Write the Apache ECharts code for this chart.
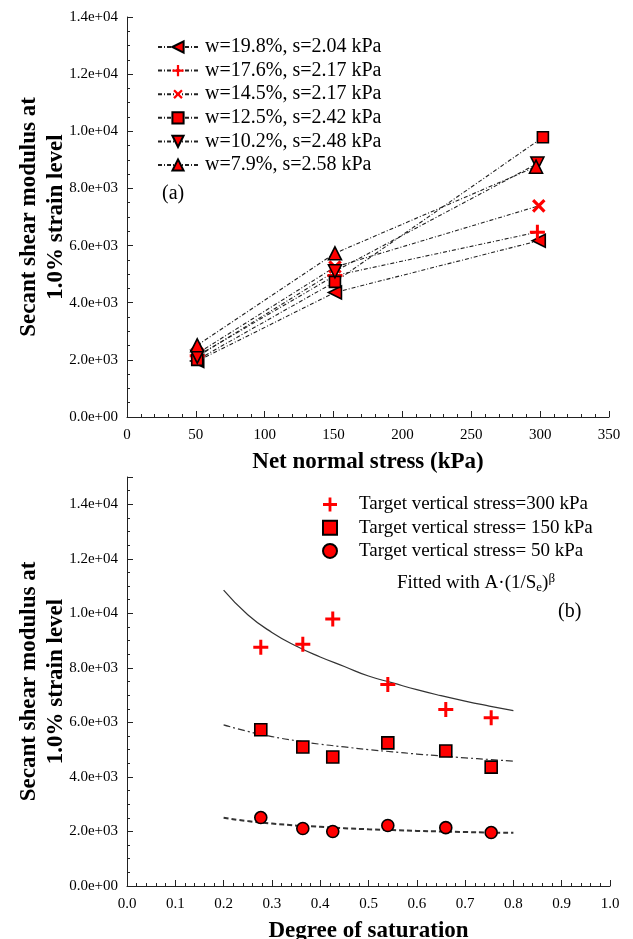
<!DOCTYPE html>
<html lang="en">
  <head>
    <meta charset="UTF-8" />
    <title>Secant shear modulus</title>
    <script src="https://cdn.jsdelivr.net/npm/echarts@6/dist/echarts.min.js"></script>
    <style>
      html, body { margin: 0; padding: 0; background: #fff; }
      #main { width: 633px; height: 939px; }
    </style>
  </head>
  <body>
    <div id="main"></div>
    <script>
      // (a) modulus vs net normal stress, one line per water content
      var seriesNames = [
        "w=19.8%, s=2.04 kPa",
        "w=17.6%, s=2.17 kPa",
        "w=14.5%, s=2.17 kPa",
        "w=12.5%, s=2.42 kPa",
        "w=10.2%, s=2.48 kPa",
        "w=7.9%, s=2.58 kPa"
      ];
      var stressX = [
        [51, 151, 299],
        [51, 151, 298],
        [51, 151, 299],
        [51, 151, 302],
        [51, 151, 298],
        [51, 151, 297]
      ];
      var modulusY = [
        [1960, 4360, 6170],
        [2140, 4950, 6470],
        [2220, 5250, 7390],
        [2000, 4730, 9790],
        [2110, 5100, 8870],
        [2510, 5730, 8760]
      ];

      // (b) modulus vs degree of saturation
      var saturation = [0.277, 0.364, 0.426, 0.540, 0.660, 0.754];
      var g300 = [8760, 8870, 9790, 7390, 6470, 6170];
      var g150 = [5730, 5100, 4730, 5250, 4950, 4360];
      var g50 = [2510, 2110, 2000, 2220, 2140, 1960];
      var bNames = [
        "Target vertical stress=300 kPa",
        "Target vertical stress= 150 kPa",
        "Target vertical stress= 50 kPa"
      ];

      // fitted curves
      var fitS = [0.2, 0.25, 0.3, 0.35, 0.4, 0.45, 0.5, 0.55, 0.6, 0.65, 0.7, 0.75, 0.8];
      var fit300 = [10850, 9950, 9300, 8800, 8400, 8050, 7700, 7450, 7200, 6980, 6780, 6600, 6430];
      var fit150 = [5910, 5670, 5480, 5330, 5200, 5100, 5000, 4920, 4840, 4770, 4700, 4640, 4580];
      var fit50 = [2500, 2380, 2290, 2220, 2170, 2120, 2080, 2050, 2020, 2000, 1980, 1960, 1950];

      var serif = "Liberation Serif";
      var plus = "path://M4,0H6V4H10V6H6V10H4V6H0V4H4Z";
      var leftTri = "path://M0,5L10,0L10,10Z";
      var downTri = "path://M0,0L10,0L5,10Z";
      var symbols = [leftTri, plus, plus, "rect", downTri, "triangle"];
      var rotates = [0, 0, 45, 0, 0, 0];
      var sizes = [13, 15, 16, 11, 13, 13];
      var bordered = [true, false, false, true, true, true];

      function sci(v) {
        if (v === 0) return "0.0e+00";
        var e = Math.floor(Math.log10(Math.abs(v)) + 1e-9);
        var m = v / Math.pow(10, e);
        return m.toFixed(1) + "e+" + (e < 10 ? "0" : "") + e;
      }

      function pairs(xs, ys) {
        var out = [];
        for (var i = 0; i < xs.length; i++) out.push([xs[i], ys[i]]);
        return out;
      }

      function axisBase() {
        return {
          axisLine: { show: true, lineStyle: { color: "#222", width: 1 } },
          axisTick: { show: true, inside: true, length: 6, lineStyle: { color: "#222" } },
          minorTick: { show: true, length: 3, lineStyle: { color: "#222" } },
          splitLine: { show: false },
          axisLabel: { color: "#000", fontFamily: serif, fontSize: 15, margin: 9 }
        };
      }

      var nameStyle = { fontFamily: serif, fontWeight: "bold", fontSize: 23, color: "#000", lineHeight: 27 };

      var xA = axisBase();
      xA.type = "value"; xA.gridIndex = 0; xA.min = 0; xA.max = 350; xA.interval = 50;
      xA.minorTick.splitNumber = 5;
      xA.axisLabel.margin = 11;
      xA.name = "Net normal stress (kPa)"; xA.nameLocation = "middle"; xA.nameGap = 32;
      xA.nameTextStyle = nameStyle;

      var xB = axisBase();
      xB.type = "value"; xB.gridIndex = 1; xB.min = 0; xB.max = 1; xB.interval = 0.1;
      xB.minorTick.splitNumber = 5;
      xB.axisLabel.margin = 11;
      xB.axisLabel.formatter = function (v) { return v.toFixed(1); };
      xB.name = "Degree of saturation"; xB.nameLocation = "middle"; xB.nameGap = 32;
      xB.nameTextStyle = nameStyle;

      var yName = "Secant shear modulus at\n1.0% strain level";
      var yA = axisBase();
      yA.type = "value"; yA.gridIndex = 0; yA.min = 0; yA.max = 14000; yA.interval = 2000;
      yA.minorTick.splitNumber = 4;
      yA.axisLabel.formatter = sci;
      yA.name = yName; yA.nameLocation = "middle"; yA.nameGap = 57;
      yA.nameMoveOverlap = false;
      yA.nameTextStyle = nameStyle;

      var yB = axisBase();
      yB.type = "value"; yB.gridIndex = 1; yB.min = 0; yB.max = 15000; yB.interval = 2000;
      yB.minorTick.splitNumber = 4;
      yB.axisLabel.formatter = function (v) { return v > 14000 ? "" : sci(v); };
      yB.name = yName; yB.nameLocation = "middle"; yB.nameGap = 57;
      yB.nameMoveOverlap = false;
      yB.nameTextStyle = nameStyle;

      var series = [];
      for (var i = 0; i < seriesNames.length; i++) {
        series.push({
          name: seriesNames[i],
          type: "line",
          xAxisIndex: 0,
          yAxisIndex: 0,
          data: pairs(stressX[i], modulusY[i]),
          symbol: symbols[i],
          symbolRotate: rotates[i],
          symbolSize: sizes[i],
          itemStyle: {
            color: "#ff0000",
            opacity: 1,
            borderColor: bordered[i] ? "#000" : "#ff0000",
            borderWidth: bordered[i] ? 1.6 : 0
          },
          lineStyle: { color: "#222", width: 1.1, type: [4, 2, 1, 2] },
          z: 3
        });
      }

      var bSym = [plus, "rect", "circle"];
      var bSize = [15, 12, 12];
      var bData = [g300, g150, g50];
      for (var j = 0; j < 3; j++) {
        series.push({
          name: bNames[j],
          type: "scatter",
          xAxisIndex: 1,
          yAxisIndex: 1,
          data: pairs(saturation, bData[j]),
          symbol: bSym[j],
          symbolSize: bSize[j],
          itemStyle: {
            color: "#ff0000",
            opacity: 1,
            borderColor: j === 0 ? "#ff0000" : "#000",
            borderWidth: j === 0 ? 0 : 1.6
          },
          z: 4
        });
      }

      var fits = [fit300, fit150, fit50];
      var fitStyles = [
        { color: "#333", width: 1.2, type: "solid" },
        { color: "#333", width: 1.2, type: [7, 3, 2, 3] },
        { color: "#333", width: 2, type: [5, 3] }
      ];
      for (var k = 0; k < 3; k++) {
        series.push({
          type: "line",
          xAxisIndex: 1,
          yAxisIndex: 1,
          data: pairs(fitS, fits[k]),
          showSymbol: false,
          smooth: true,
          lineStyle: fitStyles[k],
          silent: true,
          z: 2
        });
      }

      var chart = echarts.init(document.getElementById("main"));
      chart.setOption({
        animation: false,
        backgroundColor: "#fff",
        grid: [
          { left: 127, top: 17, width: 482, height: 400, outerBoundsMode: "none", containLabel: false },
          { left: 127, top: 477, width: 483, height: 409, outerBoundsMode: "none", containLabel: false }
        ],
        xAxis: [xA, xB],
        yAxis: [yA, yB],
        legend: [
          {
            data: seriesNames,
            orient: "vertical",
            left: 152,
            top: 32,
            itemWidth: 40,
            itemHeight: 14,
            itemGap: 3.6,
            textStyle: { fontFamily: serif, fontSize: 20, color: "#000", padding: [0, 0, 0, 2] }
          },
          {
            data: bNames,
            orient: "vertical",
            left: 317,
            top: 490,
            itemWidth: 14,
            itemHeight: 14,
            itemGap: 4.2,
            textStyle: { fontFamily: serif, fontSize: 19, color: "#000", padding: [0, 0, 0, 17] }
          }
        ],
        graphic: [
          {
            type: "text", left: 162, top: 184,
            style: { text: "(a)", font: "20px " + serif, fill: "#000" }
          },
          {
            type: "text", left: 558, top: 602,
            style: { text: "(b)", font: "20px " + serif, fill: "#000" }
          },
          {
            type: "text", left: 397, top: 572,
            style: {
              text: "{n|Fitted with A·(1/S}{s|e}{n|)}{p|β}",
              rich: {
                n: { fontFamily: serif, fontSize: 19, color: "#000" },
                s: { fontFamily: serif, fontSize: 13, color: "#000", padding: [8, 0, 0, 0] },
                p: { fontFamily: serif, fontSize: 13, color: "#000", padding: [0, 0, 10, 0] }
              }
            }
          }
        ],
        series: series
      });
    </script>
  </body>
</html>
